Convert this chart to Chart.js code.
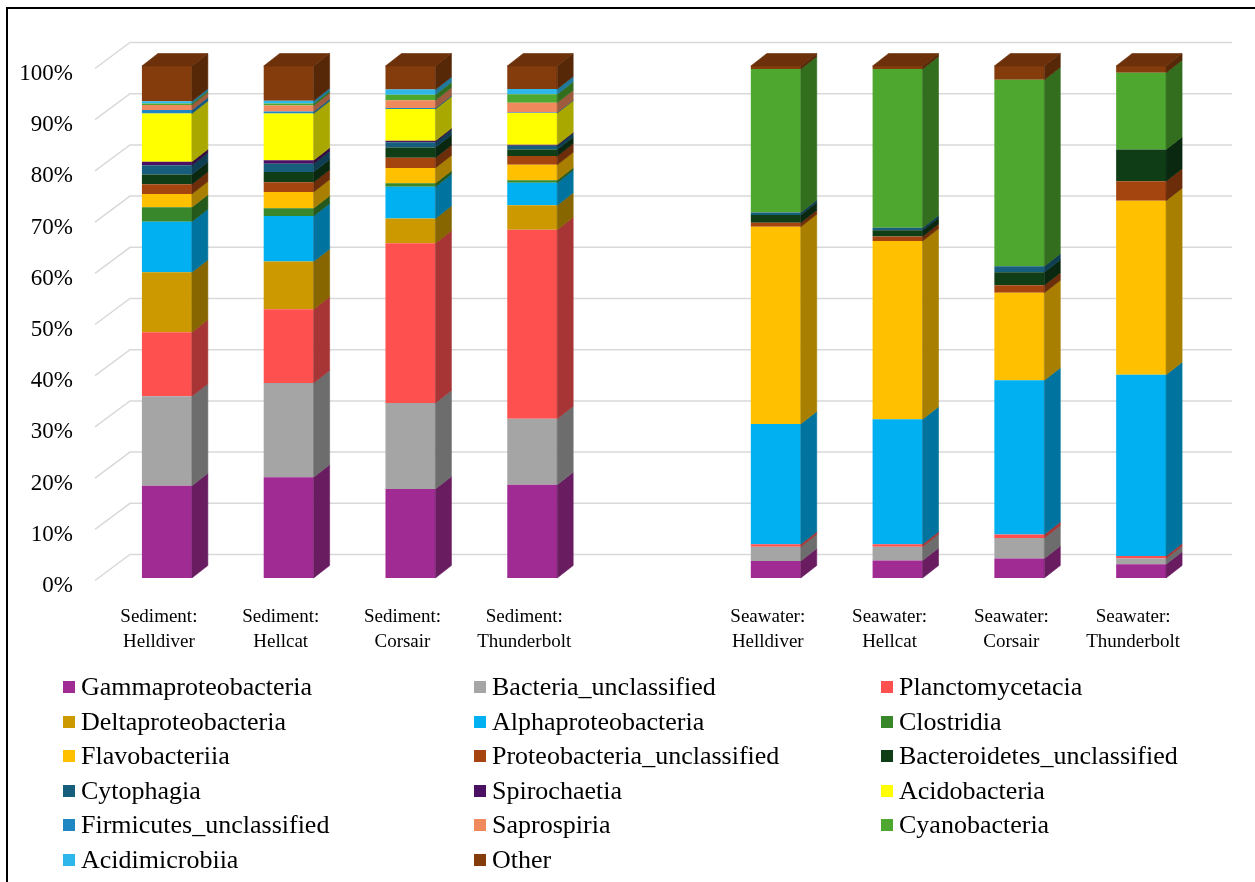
<!DOCTYPE html>
<html>
<head>
<meta charset="utf-8">
<title>Bacterial class composition</title>
<script src="https://cdn.jsdelivr.net/npm/chart.js@4.4.1/dist/chart.umd.min.js"></script>
<style>
  html, body { margin: 0; padding: 0; background: #fff; }
  #wrap { position: relative; width: 1255px; height: 882px; overflow: hidden; background: #fff; }
  #chart { position: absolute; left: 0; top: 0; }
  #frame { position: absolute; left: 6px; top: 7px; width: 1300px; height: 900px;
           border-left: 2px solid #000; border-top: 2px solid #000; pointer-events: none; }
  .lg { position: absolute; display: flex; align-items: center; height: 30px;
        font: 26px "Liberation Serif", "Times New Roman", serif; color: #000; white-space: nowrap; }
  .lg i { display: inline-block; width: 12px; height: 12px; margin-right: 6px; }
</style>
</head>
<body>
<div id="wrap">
  <canvas id="chart" width="1255" height="882"></canvas>
  <div id="legend"></div>
  <div id="frame"></div>
</div>
<script>
// Samples (two-line axis labels)
const samples = [
  ['Sediment:', 'Helldiver'], ['Sediment:', 'Hellcat'], ['Sediment:', 'Corsair'], ['Sediment:', 'Thunderbolt'],
  ['Seawater:', 'Helldiver'], ['Seawater:', 'Hellcat'], ['Seawater:', 'Corsair'], ['Seawater:', 'Thunderbolt']
];

// Relative abundance (%) per sample, same order as samples
const gammaproteobacteria        = [18.0, 19.7, 17.4, 18.2,  3.3,  3.4,  3.8,  2.7];
const bacteriaUnclassified       = [17.5, 18.4, 16.8, 12.9,  2.8,  2.7,  4.0,  1.1];
const planctomycetacia           = [12.5, 14.4, 31.2, 36.9,  0.5,  0.5,  0.7,  0.5];
const deltaproteobacteria        = [11.7,  9.3,  4.8,  4.8,  0,    0,    0,    0  ];
const alphaproteobacteria        = [ 9.9,  8.9,  6.2,  4.4, 23.5, 24.4, 30.1, 35.4];
const clostridia                 = [ 2.8,  1.5,  0.7,  0.5,  0,    0,    0,    0  ];
const flavobacteriia             = [ 2.6,  3.2,  3.0,  3.0, 38.5, 34.8, 17.1, 34.0];
const proteobacteriaUnclassified = [ 1.9,  1.9,  2.0,  1.7,  0.8,  0.9,  1.5,  3.8];
const bacteroidetesUnclassified  = [ 1.9,  2.0,  2.0,  1.3,  1.5,  1.2,  2.5,  6.2];
const cytophagia                 = [ 1.8,  1.6,  1.0,  0.7,  0.5,  0.5,  1.2,  0  ];
const spirochaetia               = [ 0.7,  0.7,  0.3,  0.2,  0,    0,    0,    0  ];
const acidobacteria              = [ 9.4,  9.1,  6.2,  6.2,  0,    0,    0,    0  ];
const firmicutesUnclassified     = [ 0.7,  0.4,  0.2,  0.1,  0,    0,    0,    0  ];
const saprospiria                = [ 1.0,  1.2,  1.5,  1.9,  0,    0,    0,    0  ];
const cyanobacteria              = [ 0.3,  0.4,  1.1,  1.7, 28.0, 31.0, 36.4, 15.0];
const acidimicrobiia             = [ 0.4,  0.5,  1.0,  1.0,  0,    0,    0,    0  ];
const other                      = [ 6.9,  6.8,  4.6,  4.5,  0.6,  0.6,  2.7,  1.3];

// Y-axis ticks (%)
const yTicks = [0, 10, 20, 30, 40, 50, 60, 70, 80, 90, 100];

// Series in stacking order (bottom to top), with fill colours
const series = [
  ['Gammaproteobacteria',        gammaproteobacteria,        '#A02B93'],
  ['Bacteria_unclassified',      bacteriaUnclassified,       '#A5A5A5'],
  ['Planctomycetacia',           planctomycetacia,           '#FF5050'],
  ['Deltaproteobacteria',        deltaproteobacteria,        '#CC9A00'],
  ['Alphaproteobacteria',        alphaproteobacteria,        '#00B0F0'],
  ['Clostridia',                 clostridia,                 '#38872B'],
  ['Flavobacteriia',             flavobacteriia,             '#FFC000'],
  ['Proteobacteria_unclassified',proteobacteriaUnclassified, '#A4440F'],
  ['Bacteroidetes_unclassified', bacteroidetesUnclassified,  '#0E3D16'],
  ['Cytophagia',                 cytophagia,                 '#175E7C'],
  ['Spirochaetia',               spirochaetia,               '#4C1062'],
  ['Acidobacteria',              acidobacteria,              '#FFFF00'],
  ['Firmicutes_unclassified',    firmicutesUnclassified,     '#1D86C3'],
  ['Saprospiria',                saprospiria,                '#F08A5C'],
  ['Cyanobacteria',              cyanobacteria,              '#4EA72E'],
  ['Acidimicrobiia',             acidimicrobiia,             '#2FB7EC'],
  ['Other',                      other,                      '#843C0C']
];

// An empty slot separates the sediment and seawater groups
const GAP_AT = 4;
const withGap = (arr, blank) => [...arr.slice(0, GAP_AT), blank, ...arr.slice(GAP_AT)];

const FONT = '"Liberation Serif", "Times New Roman", serif';
const DX = 16, DY = -12.5;   // bar depth offset

function shade(hex, f) {
  const n = parseInt(hex.slice(1), 16);
  const r = Math.round(((n >> 16) & 255) * f), g = Math.round(((n >> 8) & 255) * f), b = Math.round((n & 255) * f);
  return `rgb(${r},${g},${b})`;
}
function poly(ctx, pts, color) {
  ctx.beginPath();
  ctx.moveTo(pts[0][0], pts[0][1]);
  for (let k = 1; k < pts.length; k++) ctx.lineTo(pts[k][0], pts[k][1]);
  ctx.closePath();
  ctx.fillStyle = color; ctx.strokeStyle = color; ctx.lineWidth = 0.6;
  ctx.fill(); ctx.stroke();
}

// Draws the back-wall gridlines and the side/top faces of each bar
const depth3d = {
  id: 'depth3d',
  beforeDatasetsDraw(chart) {
    const { ctx, chartArea, scales: { y } } = chart;
    ctx.save();
    ctx.strokeStyle = '#d9d9d9';
    ctx.lineWidth = 1.5;
    y.ticks.forEach(t => {
      const py = y.getPixelForValue(t.value);
      ctx.beginPath();
      ctx.moveTo(chartArea.left - 11, py + 2.5);
      ctx.lineTo(chartArea.left + 24, py - 23.5);
      ctx.lineTo(chartArea.right + 30, py - 23.5);
      ctx.stroke();
    });
    ctx.restore();
  },
  afterDatasetsDraw(chart) {
    const { ctx } = chart;
    const ds = chart.data.datasets;
    const n = chart.data.labels.length;
    const topIdx = new Array(n).fill(-1);
    ds.forEach((d, i) => d.data.forEach((v, j) => { if (v > 0) topIdx[j] = i; }));
    ctx.save();
    ds.forEach((d, i) => {
      const meta = chart.getDatasetMeta(i);
      meta.data.forEach((el, j) => {
        const v = d.data[j];
        if (!(v > 0)) return;
        const { x, y, base, width } = el.getProps(['x', 'y', 'base', 'width'], true);
        const L = x - width / 2, R = x + width / 2;
        const T = Math.min(y, base), B = Math.max(y, base);
        poly(ctx, [[R, T], [R + DX, T + DY], [R + DX, B + DY], [R, B]], shade(d.backgroundColor, 0.66));
        if (topIdx[j] === i) {
          poly(ctx, [[L, T], [L + DX, T + DY], [R + DX, T + DY], [R, T]], shade(d.backgroundColor, 0.82));
        }
      });
    });
    ctx.restore();
  }
};

const datasets = series.map(([label, values, color]) => ({
  label,
  data: withGap(values, null),
  backgroundColor: color,
  borderWidth: 0,
  barPercentage: 0.41,
  categoryPercentage: 1.0
}));

new Chart(document.getElementById('chart'), {
  type: 'bar',
  data: { labels: withGap(samples, ''), datasets },
  options: {
    responsive: false,
    animation: false,
    events: [],
    layout: { padding: { left: 0, right: 53, top: 66, bottom: 0 } },
    plugins: { legend: { display: false }, tooltip: { enabled: false } },
    scales: {
      x: {
        stacked: true,
        grid: { display: false, drawTicks: false },
        border: { display: false },
        ticks: {
          color: '#000', padding: 27, labelOffset: -8, maxRotation: 0, autoSkip: false,
          font: { family: FONT, size: 19, lineHeight: 1.3 }
        },
        afterFit(s) { s.height = 304; }
      },
      y: {
        stacked: true, min: 0, max: 100,
        grid: { display: false, drawTicks: false },
        border: { display: false },
        afterBuildTicks(s) { s.ticks = yTicks.map(v => ({ value: v })); },
        ticks: {
          color: '#000', padding: 33, labelOffset: 8,
          font: { family: FONT, size: 23 },
          callback: v => v + '%'
        },
        afterFit(s) { s.width = 106; }
      }
    }
  },
  plugins: [depth3d]
});

// Legend: three columns, filled row by row
const legend = document.getElementById('legend');
const colX = [63, 474, 881];
const rowY0 = 687, rowStep = 34.6;
series.forEach(([label, , color], k) => {
  const item = document.createElement('div');
  item.className = 'lg';
  item.style.left = colX[k % 3] + 'px';
  item.style.top = (rowY0 + Math.floor(k / 3) * rowStep - 15) + 'px';
  const box = document.createElement('i');
  box.style.background = color;
  item.appendChild(box);
  item.appendChild(document.createTextNode(label));
  legend.appendChild(item);
});
</script>
</body>
</html>
